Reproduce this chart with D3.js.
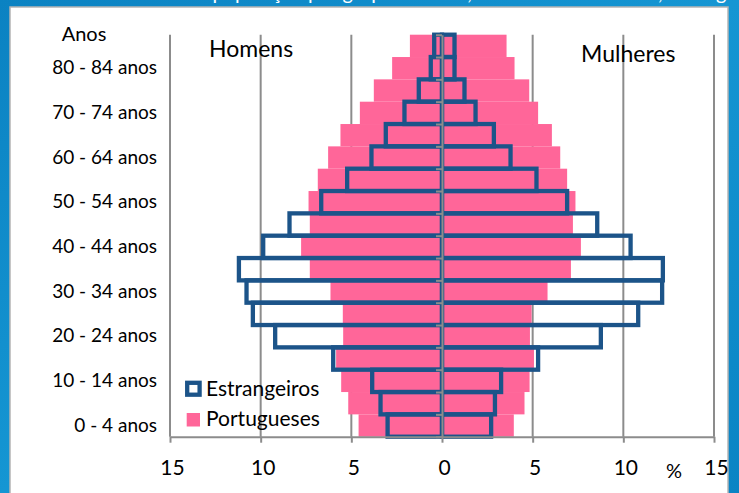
<!DOCTYPE html>
<html><head><meta charset="utf-8">
<script src="https://cdn.jsdelivr.net/npm/d3@7"></script>
<style>html,body{margin:0;padding:0;background:#fff;overflow:hidden} svg{display:block;font-family:Lato, "Open Sans", sans-serif;}</style>
</head><body><svg id="c" width="739" height="493"></svg>
<script>
// ---- data ----
const ageGroups = ["0 - 4 anos","5 - 9 anos","10 - 14 anos","15 - 19 anos","20 - 24 anos","25 - 29 anos","30 - 34 anos","35 - 39 anos","40 - 44 anos","45 - 49 anos","50 - 54 anos","55 - 59 anos","60 - 64 anos","65 - 69 anos","70 - 74 anos","75 - 79 anos","80 - 84 anos","85 e + anos"];
const shownAgeLabels = ["0 - 4 anos","10 - 14 anos","20 - 24 anos","30 - 34 anos","40 - 44 anos","50 - 54 anos","60 - 64 anos","70 - 74 anos","80 - 84 anos"];
const portuguesesHomens  = [4.60,5.17,5.56,5.84,5.45,5.47,6.15,7.29,7.77,7.29,7.36,6.85,6.28,5.60,4.53,3.76,2.75,1.77];
const portuguesesMulheres= [3.96,4.55,4.83,5.07,4.85,4.94,5.82,7.11,7.66,7.22,7.36,6.90,6.52,6.06,5.30,4.81,4.00,3.56];
const estrangeirosHomens = [3.00,3.39,3.85,6.00,9.20,10.43,10.78,11.20,9.86,8.41,6.66,5.23,3.89,3.10,2.07,1.28,0.62,0.43];
const estrangeirosMulheres=[2.71,2.92,3.26,5.30,8.76,10.82,12.14,12.18,10.40,8.56,6.90,5.21,3.78,2.86,1.85,1.24,0.69,0.69];
const xTickValues = [-15,-10,-5,0,5,10,15];
const seriesNames = ["Estrangeiros","Portugueses"];
const sideNames = ["Homens","Mulheres"];
const titleText = "Estrutura da população por grupos etários, sexo e nacionalidade, Portugal, 2011 (%)";

// ---- layout ----
const W = 739, H = 493;
const svg = d3.select("#c");
const pink = "#ff6699", blue = "#1c5489", grid = "#8c8c8c";

const defs = svg.append("defs");
const lg = defs.append("linearGradient").attr("id","bg").attr("x1","0").attr("y1","0").attr("x2","1").attr("y2","1");
lg.append("stop").attr("offset","0").attr("stop-color","#0b82c2");
lg.append("stop").attr("offset","0.5").attr("stop-color","#1596d3");
lg.append("stop").attr("offset","1").attr("stop-color","#0a84c4");
svg.append("rect").attr("width",W).attr("height",H).attr("fill","url(#bg)");
svg.append("text").text(titleText).attr("x",100).attr("y",0).attr("fill","#fff").attr("font-size",20);
svg.append("rect").attr("x",10).attr("y",7).attr("width",718).attr("height",500)
   .attr("fill","#fff").attr("stroke","#b4b4b4").attr("stroke-width",1.5);

const x = d3.scaleLinear().domain([-15,15]).range([170,714]);
const y = d3.scaleBand().domain(ageGroups).range([436.7,34.7]).paddingInner(0).paddingOuter(0);
const yLin = d3.scaleLinear().domain([0,ageGroups.length]).range([436.7,34.7]);

// gridlines
svg.append("g").selectAll("line").data(xTickValues).join("line")
  .attr("x1",d=>x(d)).attr("x2",d=>x(d)).attr("y1",yLin(ageGroups.length)).attr("y2",yLin(0))
  .attr("stroke",grid).attr("stroke-width",2);

// Portugueses bars
const pt = ageGroups.map((a,i)=>({a, m:portuguesesHomens[i], f:portuguesesMulheres[i]}));
svg.append("g").selectAll("rect").data(pt).join("rect")
  .attr("x",d=>x(-d.m)).attr("width",d=>x(d.f)-x(-d.m))
  .attr("y",d=>y(d.a)).attr("height",y.bandwidth()).attr("fill",pink);

// Estrangeiros outlines
const es = [];
ageGroups.forEach((a,i)=>{ es.push({a,v:-estrangeirosHomens[i]}); es.push({a,v:estrangeirosMulheres[i]}); });
svg.append("g").selectAll("rect").data(es).join("rect")
  .attr("x",d=>Math.min(x(0),x(d.v))).attr("width",d=>Math.abs(x(d.v)-x(0)))
  .attr("y",d=>y(d.a)).attr("height",y.bandwidth())
  .attr("fill","none").attr("stroke",blue).attr("stroke-width",4.3);

// center axis with ticks at band boundaries
const ca = svg.append("g").attr("transform",`translate(${x(0)},0)`)
  .call(d3.axisLeft(yLin).tickValues(d3.range(ageGroups.length+1)).tickSize(6).tickSizeOuter(0).tickFormat(""));
ca.select(".domain").attr("stroke",grid).attr("stroke-width",2);
ca.selectAll(".tick line").attr("stroke",grid).attr("stroke-width",2);

// bottom axis
const xa = svg.append("g").attr("transform",`translate(0,${yLin(0)})`)
  .call(d3.axisBottom(x).tickValues(xTickValues).tickSize(6).tickSizeOuter(0).tickPadding(17).tickFormat(d=>Math.abs(d)));
xa.select(".domain").attr("stroke",grid).attr("stroke-width",2);
xa.selectAll(".tick line").attr("stroke",grid).attr("stroke-width",2);
xa.selectAll(".tick text").attr("font-family","Lato").attr("font-size",21).attr("fill","#000").attr("dx",2);
svg.append("text").text("%").attr("x",674).attr("y",478).attr("text-anchor","middle").attr("font-size",20).attr("fill","#000");

// category labels
const la = svg.append("g").attr("transform","translate(157,0)")
  .call(d3.axisLeft(y).tickValues(shownAgeLabels).tickSize(0).tickPadding(0));
la.select(".domain").remove();
la.selectAll(".tick text").attr("font-family","Lato").attr("font-size",19).attr("fill","#000");

svg.append("text").text("Anos").attr("x",84).attr("y",40.7).attr("text-anchor","middle").attr("font-size",20);
svg.append("text").text(sideNames[0]).attr("x",209).attr("y",56.7).attr("font-size",23);
svg.append("text").text(sideNames[1]).attr("x",581).attr("y",61.7).attr("font-size",23);

// legend
const lgd = svg.append("g");
lgd.append("rect").attr("x",187.2).attr("y",382.8).attr("width",12.4).attr("height",11.9)
  .attr("fill","#fff").attr("stroke",blue).attr("stroke-width",4.3);
lgd.append("text").text(seriesNames[0]).attr("x",206).attr("y",395.5).attr("font-size",21);
lgd.append("rect").attr("x",186.7).attr("y",413).attr("width",13.3).attr("height",13.5).attr("fill",pink);
lgd.append("text").text(seriesNames[1]).attr("x",206).attr("y",426).attr("font-size",21);
</script></body></html>
